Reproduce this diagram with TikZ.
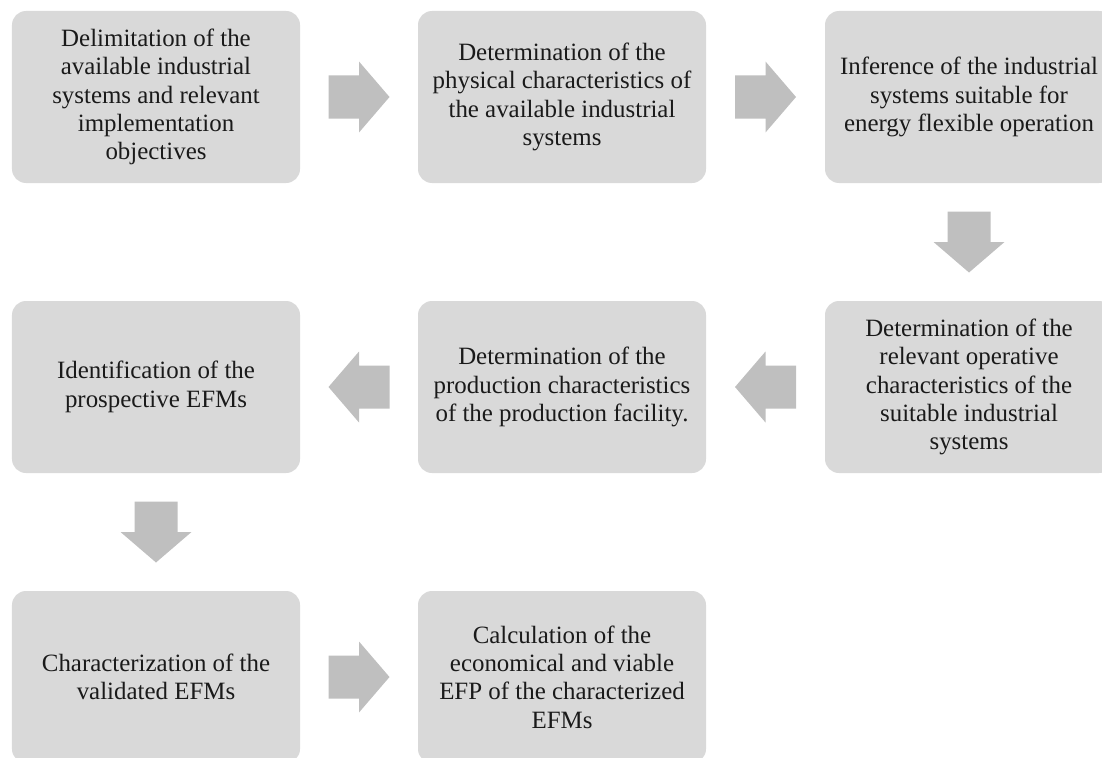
\documentclass[tikz,border=0pt]{standalone}
\usepackage{fontspec}
\setmainfont{Liberation Serif}
\usetikzlibrary{calc}

\definecolor{boxgray}{HTML}{D9D9D9}
\definecolor{arrowgray}{HTML}{BFBFBF}
\definecolor{inkblack}{HTML}{1A1A1A}

\tikzset{
  stepbox/.style={rectangle, rounded corners=14bp, fill=boxgray, draw=none,
    minimum width=288bp, minimum height=172bp, inner sep=0pt,
    align=center, text=inkblack,
    font=\fontsize{25}{28.5}\selectfont},
  pics/blockarrow/.style={code={
    \fill[arrowgray] (-30.5,-21.5) -- (0,-21.5) -- (0,-35.5) -- (30.5,0)
      -- (0,35.5) -- (0,21.5) -- (-30.5,21.5) -- cycle;}}
}

\begin{document}
\begin{tikzpicture}[x=1bp,y=-1bp]
\useasboundingbox (0,0) rectangle (1102,758);
\clip (0,0) rectangle (1102,758);

% row 1
\node[stepbox] (s1) at (156,97) {Delimitation of the\\available industrial\\systems and relevant\\implementation\\objectives};
\node[stepbox] (s2) at (562,97) {Determination of the\\physical characteristics of\\the available industrial\\systems};
\node[stepbox] (s3) at (969,97) {Inference of the industrial\\systems suitable for\\energy flexible operation};

% row 2
\node[stepbox] (s4) at (969,387) {Determination of the\\relevant operative\\characteristics of the\\suitable industrial\\systems};
\node[stepbox] (s5) at (562,387) {Determination of the\\production characteristics\\of the production facility.};
\node[stepbox] (s6) at (156,387) {Identification of the\\prospective EFMs};

% row 3
\node[stepbox] (s7) at (156,677) {Characterization of the\\validated EFMs};
\node[stepbox] (s8) at (562,677) {Calculation of the\\economical and viable\\EFP of the characterized\\EFMs};

% block arrows between the steps
\coordinate (a12) at ($(s1.east)!0.5!(s2.west)$);
\coordinate (a23) at ($(s2.east)!0.5!(s3.west)$);
\coordinate (a34) at ($(s3.south)!0.5!(s4.north)$);
\coordinate (a45) at ($(s4.west)!0.5!(s5.east)$);
\coordinate (a56) at ($(s5.west)!0.5!(s6.east)$);
\coordinate (a67) at ($(s6.south)!0.5!(s7.north)$);
\coordinate (a78) at ($(s7.east)!0.5!(s8.west)$);

\pic at (a12) {blockarrow};
\pic at (a23) {blockarrow};
\pic[rotate=-90] at (a34) {blockarrow};
\pic[rotate=180] at (a45) {blockarrow};
\pic[rotate=180] at (a56) {blockarrow};
\pic[rotate=-90] at (a67) {blockarrow};
\pic at (a78) {blockarrow};
\end{tikzpicture}
\end{document}
